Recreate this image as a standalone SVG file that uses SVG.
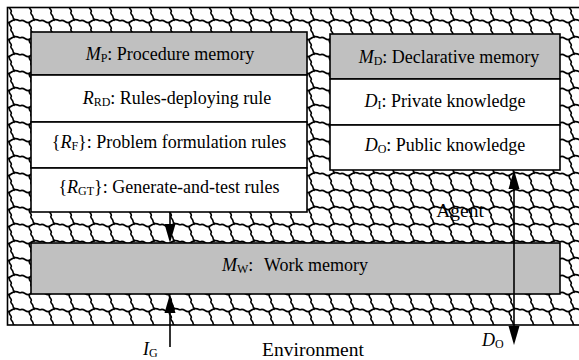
<svg xmlns="http://www.w3.org/2000/svg" width="579" height="360" viewBox="0 0 579 360">
<style>
text{font-family:"Liberation Serif","Times New Roman","DejaVu Serif",serif;font-size:18px;fill:#000}
.it{font-style:italic}
.sub{font-size:12px}
.box{fill:#fff;stroke:#000;stroke-width:1.6}
.hd{fill:#c0c0c0;stroke:#000;stroke-width:1.6}
.ln{stroke:#000;stroke-width:1.6;fill:none}
.head{fill:#000;stroke:none}
.big{font-size:19.5px}
</style>
<defs>
<pattern id="hatch" width="20" height="17" patternUnits="userSpaceOnUse">
<rect width="20" height="17" fill="#fff"/>
<path d="M0,4 C4,1 6,8 10,5 S16,2 20,4 M10,5 C7,8 13,10 11,12 C10,14 13,15 13,17 M13,0 C13,2 15,2 14,4" fill="none" stroke="#000" stroke-width="1.6"/>
</pattern>
<path id="hdn" d="M-5.5,-19 L5.5,-19 L0,0 Z"/>
</defs>
<rect id="agent" x="7.5" y="7.5" width="580" height="317.5" fill="url(#hatch)" stroke="#000" stroke-width="1.6"/>
<g id="procedure-memory">
<rect class="hd" x="31" y="32" width="276" height="43"/>
<rect class="box" x="31" y="75" width="276" height="47"/>
<rect class="box" x="31" y="122" width="276" height="46"/>
<rect class="box" x="31" y="168" width="276" height="44"/>
<text x="170" y="60" text-anchor="middle"><tspan class="it">M</tspan><tspan class="sub" dy="2">P</tspan><tspan dy="-2">: Procedure memory</tspan></text>
<text x="177" y="104" text-anchor="middle"><tspan class="it">R</tspan><tspan class="sub" dy="2">RD</tspan><tspan dy="-2">: Rules-deploying rule</tspan></text>
<text x="169" y="148" text-anchor="middle">{<tspan class="it">R</tspan><tspan class="sub" dy="2">F</tspan><tspan dy="-2">}: Problem formulation rules</tspan></text>
<text x="169" y="193" text-anchor="middle">{<tspan class="it">R</tspan><tspan class="sub" dy="2">GT</tspan><tspan dy="-2">}: Generate-and-test rules</tspan></text>
</g>
<g id="declarative-memory">
<rect class="hd" x="330" y="34" width="230" height="45"/>
<rect class="box" x="330" y="79" width="230" height="46"/>
<rect class="box" x="330" y="125" width="230" height="45"/>
<text x="449" y="63" text-anchor="middle"><tspan class="it">M</tspan><tspan class="sub" dy="2">D</tspan><tspan dy="-2">: Declarative memory</tspan></text>
<text x="445" y="107" text-anchor="middle"><tspan class="it">D</tspan><tspan class="sub" dy="2">I</tspan><tspan dy="-2">: Private knowledge</tspan></text>
<text x="445" y="151" text-anchor="middle"><tspan class="it">D</tspan><tspan class="sub" dy="2">O</tspan><tspan dy="-2">: Public knowledge</tspan></text>
</g>
<g id="work-memory">
<rect class="hd" x="31" y="243" width="529" height="51"/>
<text x="222" y="271"><tspan class="it">M</tspan><tspan class="sub" dy="2">W</tspan><tspan dy="-2">:</tspan><tspan x="264">Work memory</tspan></text>
</g>
<g id="connectors">
<line class="ln" x1="170" y1="212" x2="170" y2="230"/>
<use href="#hdn" class="head" transform="translate(170,243)"/>
<line class="ln" x1="170" y1="347" x2="170" y2="305"/>
<use href="#hdn" class="head" transform="translate(170,294) rotate(180)"/>
<line class="ln" x1="514" y1="180" x2="514" y2="334"/>
<use href="#hdn" class="head" transform="translate(514,170) rotate(180)"/>
<use href="#hdn" class="head" transform="translate(514,345)"/>
</g>
<g id="labels">
<text class="big" x="460" y="217" text-anchor="middle">Agent</text>
<text class="big" x="313" y="356" text-anchor="middle">Environment</text>
<text x="143" y="355"><tspan class="it">I</tspan><tspan class="sub" dy="2">G</tspan></text>
<text x="482" y="346"><tspan class="it">D</tspan><tspan class="sub" dy="2">O</tspan></text>
</g>
</svg>
